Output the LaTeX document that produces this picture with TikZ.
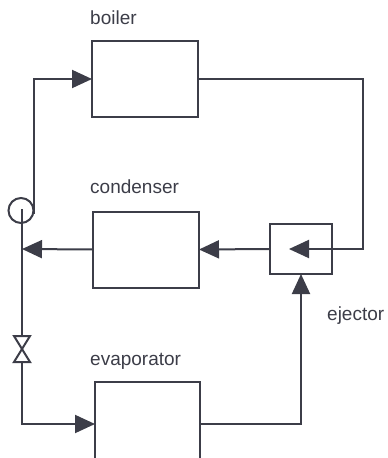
\documentclass[tikz,border=0pt]{standalone}
\usepackage{fontspec}
\setmainfont{Liberation Sans}
\usetikzlibrary{arrows.meta}
\definecolor{ink}{HTML}{3C3D48}
\tikzset{
  unitbox/.style={draw=ink,line width=2pt,fill=white,minimum width=#1,inner sep=0pt,outer sep=0pt},
  pipe/.style={draw=ink,line width=2pt,line join=miter},
  flow/.style={pipe,-{Triangle[length=20pt,width=18pt,fill=ink]}},
  lbl/.style={text=ink,font=\fontsize{19pt}{21pt}\selectfont,anchor=base west,inner sep=0pt},
  valveleg/.style={draw=ink,line width=2pt,line join=miter,fill=white}
}
\begin{document}
\begin{tikzpicture}[x=1pt,y=-1pt]
\useasboundingbox (0,0) rectangle (388,458);
\clip (0,0) rectangle (388,458);
\node[unitbox=106pt,minimum height=76pt] (boiler) at (145,79) {};
\node[unitbox=106pt,minimum height=76pt] (condenser) at (146,249.5) {};
\node[unitbox=105pt,minimum height=84pt] (evaporator) at (147.5,424) {};
\node[unitbox=62pt,minimum height=50pt] (ejector) at (301,249) {};
\node[draw=ink,line width=2pt,circle,minimum size=25pt,inner sep=0pt,outer sep=0pt] (separator) at (21,210.5) {};
\node[lbl] (lboiler) at (90,24) {boiler};
\node[lbl] (lcondenser) at (90,193) {condenser};
\node[lbl] (levaporator) at (90,365) {evaporator};
\node[lbl] (lejector) at (327,320) {ejector};
\coordinate (sepc) at (22,209);
\coordinate (septop) at (33.5,214);
\coordinate (junction) at (22,249);
\coordinate (ejin) at (289,249);
\coordinate (valvetop) at (22,336);
\coordinate (valvemid) at (22,349);
\coordinate (valvebot) at (22,362);
\coordinate (rightbend) at (363,249);
% pipes
\draw[flow] (septop) |- (boiler.west);
\draw[flow] (boiler.east) -| (rightbend) -- (ejin);
\draw[flow] (ejector.west) -- (condenser.east);
\draw[flow] (condenser.west) -- (junction);
\draw[pipe] (sepc) -- (valvetop);
\draw[flow] (valvebot) |- (evaporator.west);
\draw[flow] (evaporator.east) -| (ejector.south);
% valve
\draw[valveleg] (valvemid) -- (14,336) -- (30,336) -- cycle;
\draw[valveleg] (valvemid) -- (14,362) -- (30,362) -- cycle;
\end{tikzpicture}
\end{document}
